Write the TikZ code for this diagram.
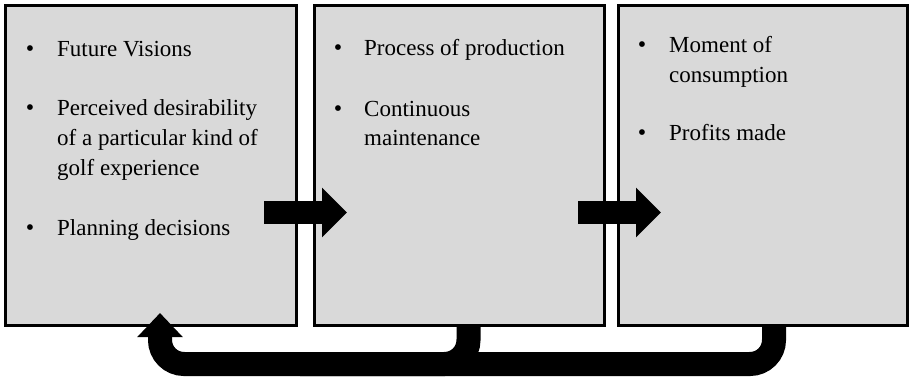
\documentclass[tikz,border=0pt]{standalone}
\usepackage{fontspec}
\setmainfont{Liberation Serif}
\usetikzlibrary{arrows.meta}
\definecolor{boxgray}{HTML}{D9D9D9}
\tikzset{
  panel/.style={draw=black, line width=3pt, fill=boxgray, inner sep=0pt},
  txt/.style={anchor=base west, inner sep=0pt, font=\fontsize{23}{30}\selectfont},
  blt/.style={anchor=base, inner sep=0pt, font=\fontsize{24}{28}\selectfont},
  flowarrow/.style={line width=23pt, -{Triangle[width=48pt,length=25pt]}},
  loop/.style={line width=24pt, rounded corners=24pt},
  loophead/.style={line width=24pt, rounded corners=24pt, -{Triangle[width=44pt,length=24pt]}}
}
\begin{document}
\begin{tikzpicture}[x=1pt,y=-1pt]
\useasboundingbox (0,0) rectangle (909,378);
% panels
\node[panel, minimum width=291pt, minimum height=320pt] (box1) at (151,165.5) {};
\node[panel, minimum width=290pt, minimum height=320pt] (box2) at (459,165.5) {};
\node[panel, minimum width=289pt, minimum height=320pt] (box3) at (763,165.5) {};
% texts box 1
\node[blt] (b11) at (30,56) {•};
\node[txt] (t11) at (57,56) {Future Visions};
\node[blt] (b12) at (30,115) {•};
\node[txt] (t12a) at (57,115) {Perceived desirability};
\node[txt] (t12b) at (57,145) {of a particular kind of};
\node[txt] (t12c) at (57,175) {golf experience};
\node[blt] (b13) at (30,235) {•};
\node[txt] (t13) at (57,235) {Planning decisions};
% texts box 2
\node[blt] (b21) at (338,55) {•};
\node[txt] (t21) at (364,55) {Process of production};
\node[blt] (b22) at (338,116) {•};
\node[txt] (t22a) at (364,116) {Continuous};
\node[txt] (t22b) at (364,145) {maintenance};
% texts box 3
\node[blt] (b31) at (642,52) {•};
\node[txt] (t31a) at (669,52) {Moment of};
\node[txt] (t31b) at (669,82) {consumption};
\node[blt] (b32) at (642,140) {•};
\node[txt] (t32) at (669,140) {Profits made};
% horizontal arrows
\coordinate (a1s) at (264,212.5);
\coordinate (a1e) at (347,212.5);
\coordinate (a2s) at (578,212.5);
\coordinate (a2e) at (661,212.5);
\draw[flowarrow] (a1s) -- (a1e);
\draw[flowarrow] (a2s) -- (a2e);
% feedback loop
\draw[loop] (box2.south -| 468.5,0) |- (300,364);
\draw[loophead] (box3.south -| 774,0) |- (160,364) -- ([yshift=14pt]box1.south -| 160,0);
\end{tikzpicture}
\end{document}
